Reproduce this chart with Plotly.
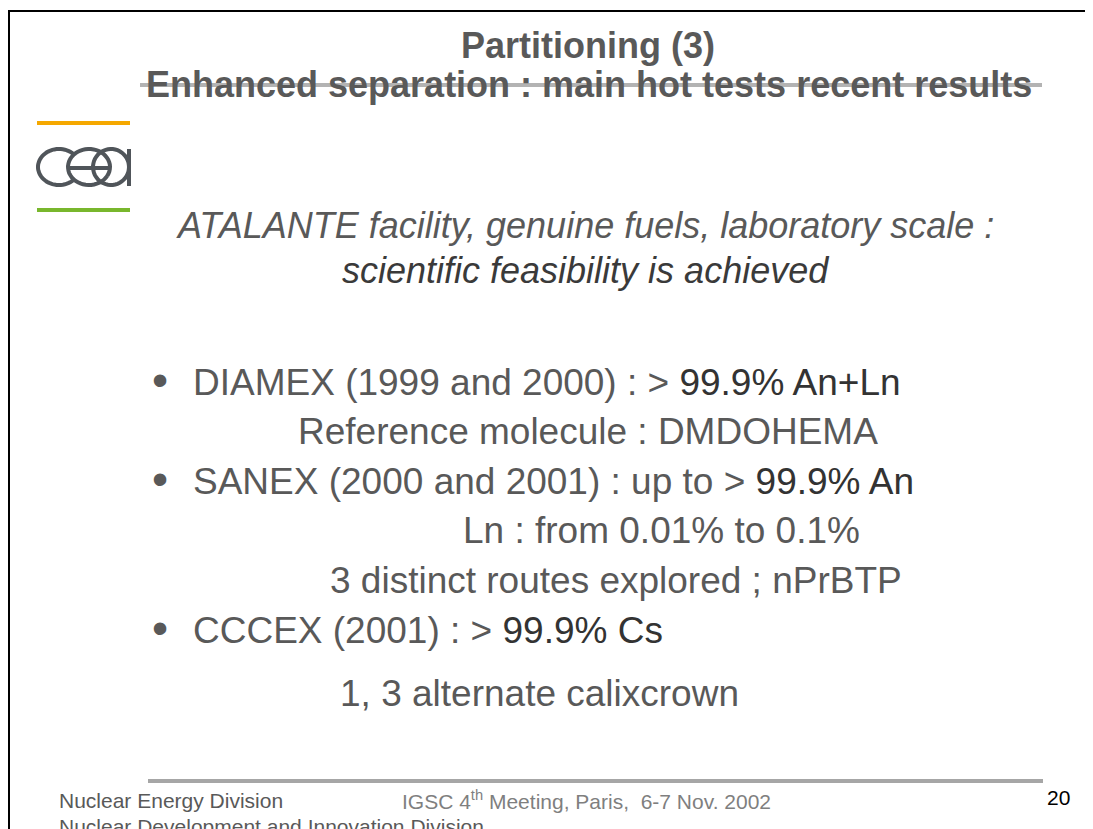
import numpy as np
import plotly.graph_objects as go

# slide text content
title_lines = ["Partitioning (3)", "Enhanced separation : main hot tests recent results"]
intro_lines = ["ATALANTE facility, genuine fuels, laboratory scale :",
               "scientific feasibility is achieved"]
bullet_heads = ["DIAMEX (1999 and 2000) : > ", "SANEX (2000 and 2001) : up to > ", "CCCEX (2001) : > "]
bullet_results = ["99.9% An+Ln", "99.9% An", "99.9% Cs"]
sub_lines = ["Reference molecule : DMDOHEMA",
             "Ln : from 0.01% to 0.1%",
             "3 distinct routes explored ; nPrBTP",
             "1, 3 alternate calixcrown"]
footer_left = ["Nuclear Energy Division", "Nuclear Development and Innovation Division"]
footer_mid = "IGSC 4<sup>th</sup> Meeting, Paris,  6-7 Nov. 2002"
page_no = "20"

FONT = "Liberation Sans, Arial, sans-serif"
GREY = "#595959"
DARK = "#333333"

fig = go.Figure()

# title
fig.add_annotation(x=588, y=45, text="<b>" + title_lines[0] + "</b>", showarrow=False,
                   font=dict(family=FONT, size=36, color=GREY), xanchor="center", yanchor="middle")
fig.add_annotation(x=589, y=84, text="<b>" + title_lines[1] + "</b>", showarrow=False,
                   font=dict(family=FONT, size=36, color=GREY), xanchor="center", yanchor="middle")

# intro (italic)
fig.add_annotation(x=585, y=225, text="<i>" + intro_lines[0] + "</i>", showarrow=False,
                   font=dict(family=FONT, size=36, color=GREY), xanchor="center", yanchor="middle")
fig.add_annotation(x=585, y=270, text="<i>" + intro_lines[1] + "</i>", showarrow=False,
                   font=dict(family=FONT, size=36, color="#3a3a3a"), xanchor="center", yanchor="middle")

# bullets
bullet_y = [382, 481, 630]
for head, res, y in zip(bullet_heads, bullet_results, bullet_y):
    fig.add_annotation(x=160, y=y - 2, text="•", showarrow=False,
                       font=dict(family=FONT, size=46, color=GREY), xanchor="center", yanchor="middle")
    fig.add_annotation(x=191, y=y, showarrow=False,
                       text=head + "<span style='color:%s'>%s</span>" % (DARK, res),
                       font=dict(family=FONT, size=37, color=GREY), xanchor="left", yanchor="middle")

sub_x = [296, 461, 328, 338]
sub_y = [431, 530, 580, 693]
for txt, x, y in zip(sub_lines, sub_x, sub_y):
    fig.add_annotation(x=x, y=y, text=txt, showarrow=False,
                       font=dict(family=FONT, size=37, color=GREY), xanchor="left", yanchor="middle")

# footer
for txt, y in zip(footer_left, [800, 826]):
    fig.add_annotation(x=57, y=y, text=txt, showarrow=False,
                       font=dict(family=FONT, size=21, color=GREY), xanchor="left", yanchor="middle")
fig.add_annotation(x=400, y=800, text=footer_mid, showarrow=False,
                   font=dict(family=FONT, size=21, color="#7f7f7f"), xanchor="left", yanchor="middle")
fig.add_annotation(x=1045, y=797, text=page_no, showarrow=False,
                   font=dict(family=FONT, size=21, color="black"), xanchor="left", yanchor="middle")

# frame and rules
fig.add_shape(type="line", x0=0, x1=1093, y0=11, y1=11, line=dict(color="black", width=2))
fig.add_shape(type="line", x0=9, x1=9, y0=11, y1=829, line=dict(color="black", width=2))
fig.add_shape(type="line", x0=140, x1=1042, y0=85, y1=85, line=dict(color="#b3b3b3", width=4), layer="below")
fig.add_shape(type="line", x0=148, x1=1043, y0=781, y1=781, line=dict(color="#a6a6a6", width=4))

# cea logo
fig.add_shape(type="line", x0=37, x1=130, y0=123, y1=123, line=dict(color="#f5a800", width=4))
fig.add_shape(type="line", x0=37, x1=130, y0=210, y1=210, line=dict(color="#79b72d", width=4))
logo = "#50555a"


def arc(cx, cy, rx, ry, a0, a1, n=48):
    t = np.radians(np.linspace(a0, a1, n))
    pts = ["%.1f,%.1f" % (cx + rx * np.cos(a), cy - ry * np.sin(a)) for a in t]
    return "M" + " L".join(pts)


# "c" open on the right, "e" with its bar, "a" with its stem
fig.add_shape(type="path", path=arc(59, 167, 21, 18, 45, 315), line=dict(color=logo, width=4))
fig.add_shape(type="path", path=arc(89, 167, 21, 18, -30, 330), line=dict(color=logo, width=4))
fig.add_shape(type="path", path=arc(111, 167, 18, 18, 0, 360), line=dict(color=logo, width=4))
fig.add_shape(type="line", x0=70, x1=110, y0=168, y1=168, line=dict(color=logo, width=4))
fig.add_shape(type="line", x0=129, x1=129, y0=149, y1=186, line=dict(color=logo, width=4))

# the page body has an 8px margin, so the axes start at 8 to keep slide pixels in place
fig.update_layout(
    width=1085, height=821,
    margin=dict(l=0, r=0, t=0, b=0),
    paper_bgcolor="white", plot_bgcolor="white",
    xaxis=dict(range=[8, 1093], visible=False, fixedrange=True),
    yaxis=dict(range=[829, 8], visible=False, fixedrange=True),
    showlegend=False,
)

fig.write_html("out.html")
